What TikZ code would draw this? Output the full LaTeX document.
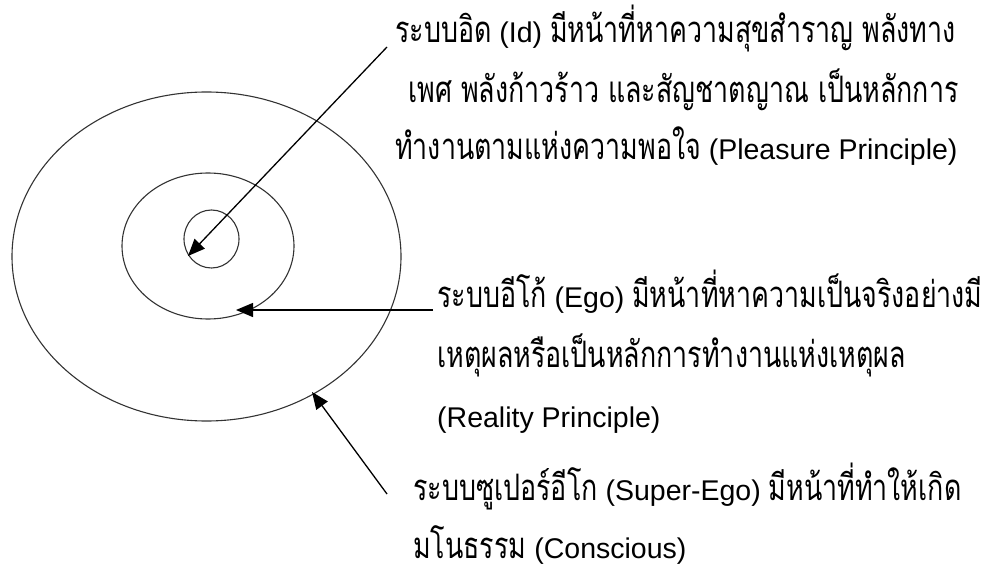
\documentclass[tikz,border=0pt]{standalone}
\usepackage{fontspec}
\setmainfont{Liberation Sans}
\newfontfamily\thaifont[Script=Thai,Scale=1.28,FakeStretch=0.735]{Loma}
\newcommand\thtxt[1]{{\thaifont #1}}
\usetikzlibrary{arrows.meta}
\tikzset{
  ring/.style={draw=black!80, line width=1.1pt},
  pointer/.style={draw=black, line width=1.3pt, -{Triangle[length=17pt,width=14pt]}},
  txt/.style={anchor=base west, inner sep=0pt, font=\fontsize{28.5}{30}\selectfont},
}
\begin{document}
\begin{tikzpicture}[x=1pt,y=-1pt]
\useasboundingbox (0,0) rectangle (989,567);
% rings
\draw[ring] (206.5,256.5) ellipse [x radius=194.5, y radius=164.5];
\draw[ring] (208,246) ellipse [x radius=86, y radius=73];
\draw[ring] (211.5,239) ellipse [x radius=27.5, y radius=29];
% Id text
\node[txt] (id1) at (395,43) {\thtxt{ระบบอิด} (Id) \thtxt{มีหน้าที่หาความสุขสำราญ พลังทาง}};
\node[txt] (id2) at (408,103) {\thtxt{เพศ พลังก้าวร้าว และสัญชาตญาณ เป็นหลักการ}};
\node[txt] (id3) at (395,160) {\thtxt{ทำงานตามแห่งความพอใจ} (Pleasure Principle)};
% Ego text
\node[txt] (ego1) at (437,307) {\thtxt{ระบบอีโก้} (Ego) \thtxt{มีหน้าที่หาความเป็นจริงอย่างมี}};
\node[txt] (ego2) at (437,367) {\thtxt{เหตุผลหรือเป็นหลักการทำงานแห่งเหตุผล}};
\node[txt] (ego3) at (437,427) {(Reality Principle)};
% Super-Ego text
\node[txt] (sup1) at (413,500) {\thtxt{ระบบซูเปอร์อีโก} (Super-Ego) \thtxt{มีหน้าที่ทำให้เกิด}};
\node[txt] (sup2) at (413,558) {\thtxt{มโนธรรม} (Conscious)};
% arrow ends
\coordinate (idstart) at (387,47);
\coordinate (idtip) at (188,256);
\coordinate (egostart) at (433,310);
\coordinate (egotip) at (236,310);
\coordinate (supstart) at (387,494);
\coordinate (suptip) at (312,392);
\draw[pointer] (idstart) -- (idtip);
\draw[pointer] (egostart) -- (egotip);
\draw[pointer] (supstart) -- (suptip);
\end{tikzpicture}
\end{document}
